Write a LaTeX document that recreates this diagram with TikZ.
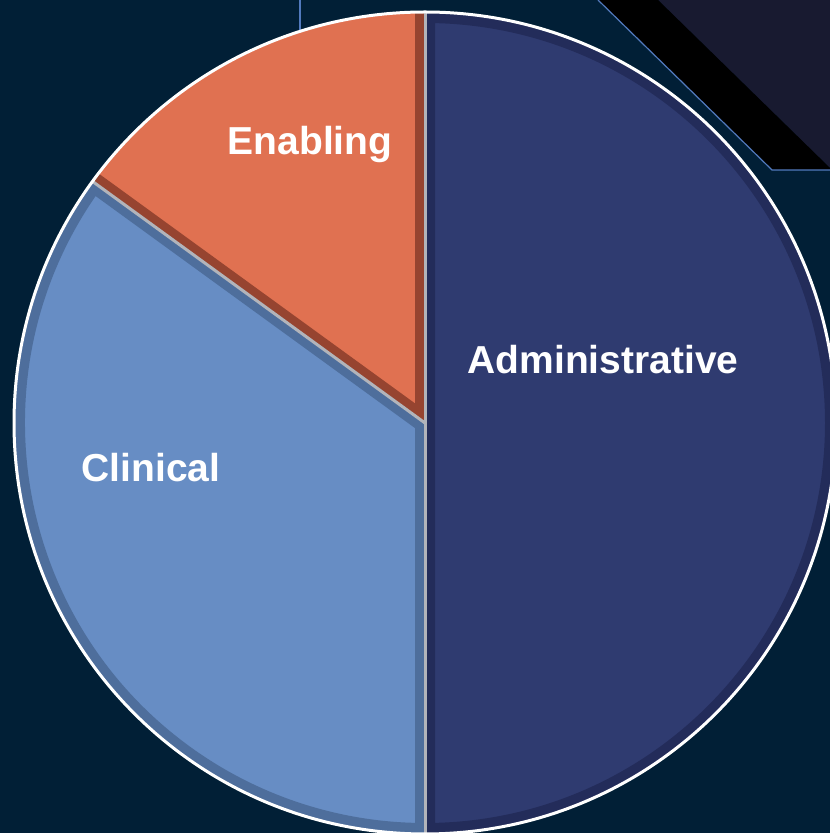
\documentclass[tikz,border=0pt]{standalone}
\usepackage{fontspec}
\setmainfont{Liberation Sans}
\definecolor{bgnavy}{RGB}{1,31,54}
\definecolor{cornerdark}{RGB}{24,26,48}
\definecolor{thinblue}{RGB}{82,122,190}
\definecolor{adminblue}{RGB}{47,59,112}
\definecolor{admindark}{RGB}{35,44,90}
\definecolor{enablingorange}{RGB}{224,113,81}
\definecolor{enablingdark}{RGB}{150,68,48}
\definecolor{clinicalblue}{RGB}{103,141,196}
\definecolor{clinicaldark}{RGB}{78,110,156}
\definecolor{sepgrey}{RGB}{178,180,186}
\begin{document}
\begin{tikzpicture}[x=1pt,y=1pt]
\tikzstyle{every node}+=[inner sep=0pt]
\tikzstyle{slicetext}=[text=white, font=\fontsize{39}{39}\selectfont\bfseries, anchor=base]
\fill [bgnavy] (0,0) rectangle (830,833);
\useasboundingbox (0,0) rectangle (830,833);
\clip (0,0) rectangle (830,833);
\coordinate (c) at (425,410);
\fill [cornerdark] (658,833) -- (830,833) -- (830,665) -- cycle;
\fill [black] (598,833) -- (658,833) -- (830,665) -- (830,663) -- (772,663) -- cycle;
\draw [thinblue, line width=1.2] (598,833) -- (772,663) -- (830,663);
\draw [thinblue, line width=1.5] (300,833) -- (300,790);
\begin{scope}
\clip (c) -- ++(90:410) arc [start angle=90, end angle=-90, radius=410] -- cycle;
\fill [adminblue] (c) -- ++(90:410) arc [start angle=90, end angle=-90, radius=410] -- cycle;
\draw [admindark, line width=20] (c) -- ++(90:410) arc [start angle=90, end angle=-90, radius=410] -- cycle;
\end{scope}
\begin{scope}
\clip (c) -- ++(90:410) arc [start angle=90, end angle=144, radius=410] -- cycle;
\fill [enablingorange] (c) -- ++(90:410) arc [start angle=90, end angle=144, radius=410] -- cycle;
\draw [enablingdark, line width=20] (c) -- ++(90:410);
\draw [enablingdark, line width=20] (c) -- ++(144:410);
\end{scope}
\begin{scope}
\clip (c) -- ++(144:410) arc [start angle=144, end angle=270, radius=410] -- cycle;
\fill [clinicalblue] (c) -- ++(144:410) arc [start angle=144, end angle=270, radius=410] -- cycle;
\draw [clinicaldark, line width=20] (c) -- ++(144:410) arc [start angle=144, end angle=270, radius=410] -- cycle;
\end{scope}
\draw [sepgrey, line width=3] (c) -- ++(90:410);
\draw [sepgrey, line width=3] (c) -- ++(144:410);
\draw [sepgrey, line width=3] (c) -- ++(270:410);
\draw [white, line width=3] (c) circle (411);
\node [slicetext] (enabling) at (310,678) {Enabling};
\node [slicetext] (administrative) at (603,459) {Administrative};
\node [slicetext] (clinical) at (151,351) {Clinical};
\end{tikzpicture}
\end{document}
